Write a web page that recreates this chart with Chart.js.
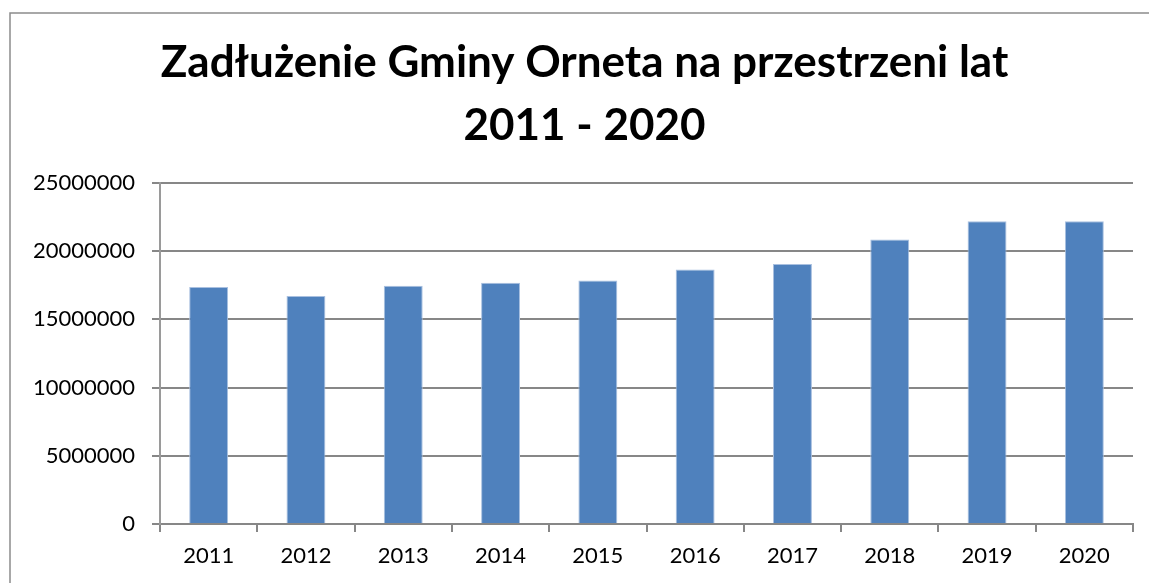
<!DOCTYPE html>
<html>
<head>
<meta charset="utf-8">
<script src="https://cdn.jsdelivr.net/npm/chart.js@4"></script>
<style>
    html, body { margin: 0; padding: 0; background: #fff; }
    #wrap { width: 1149px; height: 583px; }
</style>
</head>
<body>
<div id="wrap"><canvas id="c"></canvas></div>
<script>
const years = ['2011', '2012', '2013', '2014', '2015', '2016', '2017', '2018', '2019', '2020']
const debt = [17380000, 16720000, 17470000, 17690000, 17860000, 18650000, 19070000, 20850000, 22200000, 22200000]
const yTicks = [0, 5000000, 10000000, 15000000, 20000000, 25000000]
const titleLines = ['Zadłużenie Gminy Orneta na przestrzeni lat', '2011 - 2020']

const gray = '#878787'

// thin frame like the excel chart area, top + left only (rest is cropped)
const frame = {
    id: 'frame',
    beforeDraw(chart) {
        const ctx = chart.ctx
        ctx.save()
        ctx.strokeStyle = '#8c8c8c'
        ctx.lineWidth = 1.5
        ctx.beginPath()
        ctx.moveTo(10, chart.height)
        ctx.lineTo(10, 13)
        ctx.lineTo(chart.width, 13)
        ctx.stroke()
        ctx.restore()
    }
}

// the original title is centred a bit right of the canvas middle
const nudgeTitle = {
    id: 'nudgeTitle',
    afterLayout(chart) {
        if (chart.titleBlock) {
            chart.titleBlock.left += 18
            chart.titleBlock.right += 18
        }
    }
}

const canvas = document.getElementById('c')

const chart = new Chart(canvas, {
    type: 'bar',
    data: {
        labels: years,
        datasets: [
            {
                label: 'Zadłużenie',
                data: debt,
                backgroundColor: '#4f81bd',
                borderColor: '#a9c0e0',
                borderWidth: 1,
                categoryPercentage: 1,
                barPercentage: 0.4,
            },
        ]
    },
    options: {
        responsive: true,
        maintainAspectRatio: false,
        animation: false,
        layout: {
            padding: { left: 0, right: 16, top: 0, bottom: 0 }
        },
        plugins: {
            legend: false,
            tooltip: { enabled: false },
            title: {
                display: true,
                text: titleLines,
                color: '#000',
                font: { family: 'Lato', weight: 'bold', size: 44, lineHeight: '63px' },
                padding: { top: 31, bottom: 26 },
            },
        },
        scales: {
            x: {
                afterFit(scale) { scale.height = 59 },
                grid: {
                    offset: true,
                    drawOnChartArea: false,
                    drawTicks: true,
                    tickLength: 8,
                    color: gray,
                    lineWidth: 2,
                },
                border: { color: gray, width: 2 },
                ticks: {
                    color: '#000',
                    padding: 11,
                    font: { family: 'Lato', size: 22 },
                },
            },
            y: {
                min: 0,
                max: 25000000,
                afterFit(scale) { scale.width = 160 },
                afterBuildTicks(scale) {
                    scale.ticks = yTicks.map(v => ({ value: v }))
                },
                grid: {
                    color: gray,
                    lineWidth: 2,
                    tickLength: 8,
                },
                border: { color: '#9a9a9a', width: 2 },
                ticks: {
                    color: '#000',
                    padding: 17,
                    font: { family: 'Lato', size: 22 },
                    callback: v => String(v),
                },
            }
        }
    },
    plugins: [frame, nudgeTitle]
});
</script>
</body>
</html>
